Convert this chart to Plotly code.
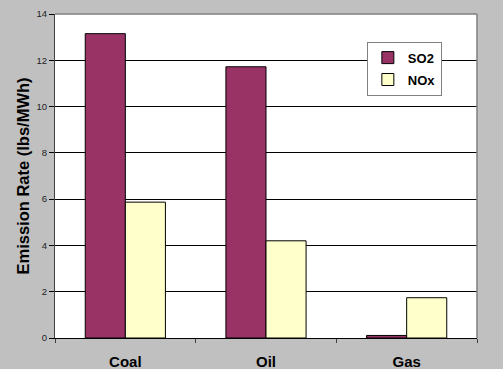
import plotly.graph_objects as go

categories = ["Coal", "Oil", "Gas"]
so2 = [13.15, 11.72, 0.11]
nox = [5.87, 4.2, 1.74]
y_ticks = [0, 2, 4, 6, 8, 10, 12, 14]

FONT = "Liberation Sans, Arial, sans-serif"

fig = go.Figure()
fig.add_trace(go.Bar(name="<b>SO2</b>", x=categories, y=so2, legendgroup="a",
                     marker=dict(color="#993366", line=dict(color="#000000", width=1))))
fig.add_trace(go.Bar(name="<b>NOx</b>", x=categories, y=nox, legendgroup="b",
                     marker=dict(color="#FFFFCC", line=dict(color="#000000", width=1))))

fig.update_layout(
    width=503, height=369,
    margin=dict(l=55, r=26, t=14, b=31),
    paper_bgcolor="#C0C0C0",
    plot_bgcolor="#FFFFFF",
    barmode="group",
    bargap=0.43,
    bargroupgap=0,
    font=dict(family=FONT, color="#000000"),
    showlegend=True,
    legend=dict(
        x=0.739, y=0.9146, xanchor="left", yanchor="top",
        bgcolor="#FFFFFF", bordercolor="#808080", borderwidth=1,
        font=dict(family=FONT, size=13, color="#000000"),
        traceorder="grouped", tracegroupgap=2,
    ),
    xaxis=dict(
        automargin=False,
        showline=True, linecolor="#000000", linewidth=1,
        ticks="outside", tickson="boundaries", ticklen=4, tickcolor="#404040",
        ticklabelstandoff=10,
        tickfont=dict(family=FONT, size=15, weight="bold", color="#000000"),
        showgrid=False,
    ),
    yaxis=dict(
        automargin=False,
        range=[0, 14], tickvals=y_ticks,
        showline=True, linecolor="#404040", linewidth=1,
        ticks="outside", ticklen=5, tickcolor="#000000",
        tickfont=dict(family=FONT, size=9.5, color="#222222"),
        showgrid=True, gridcolor="#000000", gridwidth=1,
        zeroline=False,
        title=dict(text="Emission Rate (lbs/MWh)", standoff=2,
                   font=dict(family=FONT, size=16.5, weight="bold", color="#000000")),
    ),
)

# plot-area border on top and right
fig.add_shape(type="line", xref="paper", yref="paper", x0=0, x1=1, y0=1, y1=1,
              line=dict(color="#808080", width=1.5))
fig.add_shape(type="line", xref="paper", yref="paper", x0=1, x1=1, y0=0, y1=1,
              line=dict(color="#808080", width=1.5))

fig.write_html("out.html")
